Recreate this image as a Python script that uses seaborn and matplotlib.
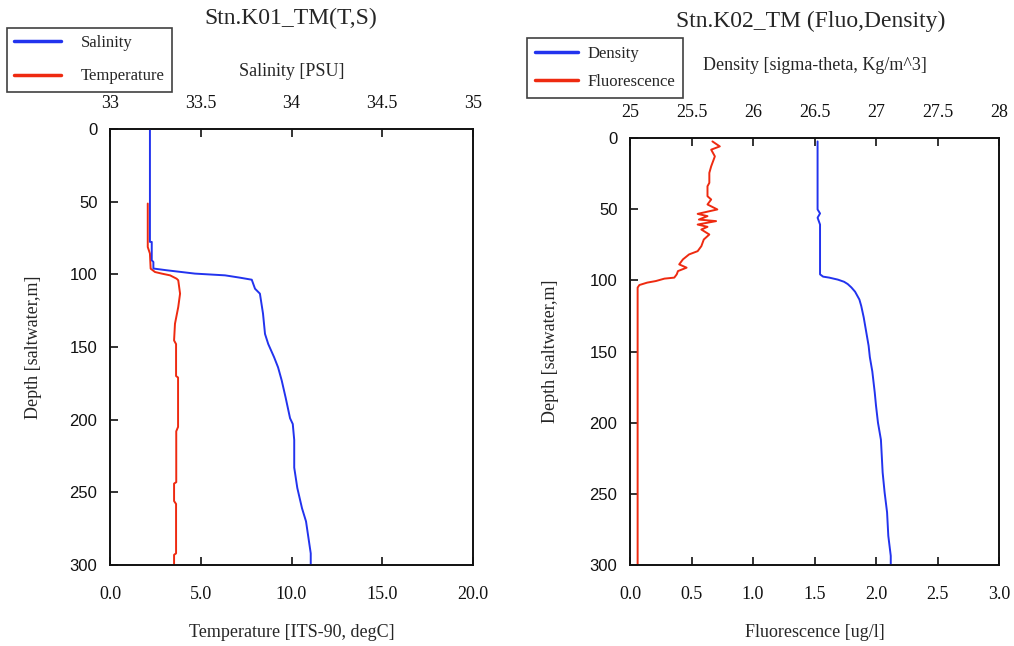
import matplotlib
matplotlib.use("Agg")
import matplotlib.pyplot as plt
import seaborn as sns

# ---------------- data ----------------
# Left panel: Stn.K01_TM (T,S)
sal_depth = [0.7, 77.7, 77.7, 90.3, 91.5, 96.0, 97.2, 99.5, 100.7, 102.3, 103.7, 109.9,
             113.3, 127, 141, 148, 157, 164, 173, 185, 199, 203, 214, 233, 247, 261,
             270, 281, 292, 300]
salinity = [33.220, 33.220, 33.230, 33.230, 33.239, 33.239, 33.312, 33.468, 33.634, 33.716,
            33.781, 33.799, 33.826, 33.843, 33.854, 33.872, 33.904, 33.926, 33.946, 33.968,
            33.992, 34.007, 34.015, 34.015, 34.032, 34.058, 34.080, 34.093, 34.106, 34.106]

temp_depth = [51.3, 81.2, 85.7, 96.1, 98.4, 99.5, 100.7, 103.0, 104.1, 113.3, 122.5, 134,
              145.5, 148, 170, 171, 205, 208, 243, 244, 256, 258, 292, 293, 300]
temperature = [2.08, 2.08, 2.20, 2.24, 2.48, 2.85, 3.31, 3.67, 3.76, 3.86, 3.76, 3.58,
               3.53, 3.64, 3.64, 3.75, 3.75, 3.65, 3.65, 3.53, 3.53, 3.64, 3.64, 3.53, 3.53]

# Right panel: Stn.K02_TM (Fluo,Density)
fluo_depth = [2.4, 5.9, 8.2, 12.9, 19.9, 24.5, 31.5, 33.9, 40.9, 43.2, 46.7, 50.2, 53.3,
              54.9, 57.3, 58.4, 60.8, 62.4, 64.3, 67.8, 71.3, 76.0, 79.5, 81.8, 85.3, 88.8,
              91.1, 93.5, 95.8, 98.1, 98.8, 100.5, 101.6, 103.3, 105.1, 300]
fluorescence = [0.67, 0.73, 0.66, 0.69, 0.66, 0.645, 0.645, 0.63, 0.63, 0.66, 0.63, 0.71,
                0.55, 0.63, 0.56, 0.70, 0.55, 0.63, 0.58, 0.645, 0.60, 0.58, 0.55, 0.48,
                0.43, 0.40, 0.46, 0.39, 0.38, 0.36, 0.28, 0.21, 0.14, 0.076, 0.062, 0.062]

dens_depth = [2.4, 50.2, 53.0, 56.0, 60.8, 95.8, 97.4, 98.1, 99.5, 101.0, 102.6, 105, 108,
              113.5, 118, 126, 136, 146, 154, 164, 179, 188, 200, 212, 235, 249, 263,
              279.5, 293.6, 300]
density = [26.525, 26.525, 26.545, 26.525, 26.545, 26.545, 26.57, 26.62, 26.69, 26.74,
           26.77, 26.80, 26.83, 26.865, 26.88, 26.90, 26.92, 26.94, 26.95, 26.97, 26.99,
           27.00, 27.016, 27.04, 27.054, 27.07, 27.09, 27.10, 27.12, 27.12]

# ticks / labels
depth_ticks = [0, 50, 100, 150, 200, 250, 300]
depth_ticklabels = ["0", "50", "100", "150", "200", "250", "300"]
temp_ticks = [0, 5, 10, 15, 20]
temp_ticklabels = ["0.0", "5.0", "10.0", "15.0", "20.0"]
sal_ticks = [33, 33.5, 34, 34.5, 35]
sal_ticklabels = ["33", "33.5", "34", "34.5", "35"]
fluo_ticks = [0, 0.5, 1.0, 1.5, 2.0, 2.5, 3.0]
fluo_ticklabels = ["0.0", "0.5", "1.0", "1.5", "2.0", "2.5", "3.0"]
dens_ticks = [25, 25.5, 26, 26.5, 27, 27.5, 28]
dens_ticklabels = ["25", "25.5", "26", "26.5", "27", "27.5", "28"]

BLUE = "#2233ee"
RED = "#ee2a10"

# ---------------- style ----------------
sns.set_theme(style="white")
plt.rcParams["font.family"] = ["Liberation Serif", "DejaVu Serif"]
plt.rcParams["axes.edgecolor"] = "#111111"
plt.rcParams["axes.linewidth"] = 1.2

W, H = 1014, 646
fig = plt.figure(figsize=(W / 100, H / 100), dpi=100)


def fx(px):
    return px / W


def fy(py):
    return 1 - py / H


def style_axes(ax, top, xticks, xlabels, tticks, tlabels, xlab, tlab,
               tick_pad_top, label_pad_top, ylabelpad):
    ax.set_ylim(300, 0)
    ax.set_yticks(depth_ticks)
    ax.set_yticklabels(depth_ticklabels, fontfamily="Liberation Sans", fontsize=12)
    ax.set_xticks(xticks)
    ax.set_xticklabels(xlabels, fontsize=13)
    ax.set_xlabel(xlab, fontsize=13, labelpad=15)
    ax.set_ylabel("Depth [saltwater,m]", fontsize=13, labelpad=ylabelpad)
    ax.tick_params(axis="x", which="both", direction="in", length=6, width=1.2,
                   bottom=True, top=False, pad=15, colors="#111111")
    ax.tick_params(axis="y", which="both", direction="in", length=6, width=1.2,
                   left=True, right=False, pad=9, colors="#111111")
    top.set_xticks(tticks)
    top.set_xticklabels(tlabels, fontsize=13)
    top.set_xlabel(tlab, fontsize=13, labelpad=label_pad_top)
    top.tick_params(axis="x", which="both", direction="in", length=6, width=1.2,
                    top=True, bottom=False, pad=tick_pad_top, colors="#111111")
    for a in (ax, top):
        for s in a.spines.values():
            s.set_visible(True)
            s.set_color("#111111")
            s.set_linewidth(1.2)


# ---------------- left panel ----------------
axL = fig.add_axes([fx(110), fy(565), fx(473) - fx(110), fy(129) - fy(565)])
axL.set_xlim(0, 20)
sns.lineplot(x=temperature, y=temp_depth, sort=False, estimator=None, ax=axL,
             color=RED, lw=1.4)
topL = axL.twiny()
topL.set_xlim(33, 35)
sns.lineplot(x=salinity, y=sal_depth, sort=False, estimator=None, ax=topL,
             color=BLUE, lw=1.4)
style_axes(axL, topL, temp_ticks, temp_ticklabels, sal_ticks, sal_ticklabels,
           "Temperature [ITS-90, degC]", "Salinity [PSU]", 12, 14, 20)

# ---------------- right panel ----------------
axR = fig.add_axes([fx(630), fy(565), fx(999) - fx(630), fy(138) - fy(565)])
axR.set_xlim(0, 3)
sns.lineplot(x=fluorescence, y=fluo_depth, sort=False, estimator=None, ax=axR,
             color=RED, lw=1.4)
topR = axR.twiny()
topR.set_xlim(25, 28)
sns.lineplot(x=density, y=dens_depth, sort=False, estimator=None, ax=topR,
             color=BLUE, lw=1.4)
style_axes(axR, topR, fluo_ticks, fluo_ticklabels, dens_ticks, dens_ticklabels,
           "Fluorescence [ug/l]", "Density [sigma-theta, Kg/m^3]", 12, 25, 22)

# ---------------- titles ----------------
fig.text(fx(291), fy(18), "Stn.K01_TM(T,S)", ha="center", va="center", fontsize=17)
fig.text(fx(811), fy(21), "Stn.K02_TM (Fluo,Density)", ha="center", va="center", fontsize=17)

# ---------------- legends ----------------
hL = [topL.get_lines()[0], axL.get_lines()[0]]
legL = fig.legend(hL, ["Salinity", "Temperature"], loc="upper left",
                  bbox_to_anchor=(fx(7), fy(28)), bbox_transform=fig.transFigure,
                  frameon=True, fancybox=False, edgecolor="#111111", borderaxespad=0,
                  fontsize=12, handlelength=2.8, handletextpad=1.2, labelspacing=1.05,
                  borderpad=0.42)
legL.get_frame().set_linewidth(1.2)
for ln in legL.get_lines():
    ln.set_linewidth(2.5)

hR = [topR.get_lines()[0], axR.get_lines()[0]]
legR = fig.legend(hR, ["Density", "Fluorescence"], loc="upper left",
                  bbox_to_anchor=(fx(527), fy(38)), bbox_transform=fig.transFigure,
                  frameon=True, fancybox=False, edgecolor="#111111", borderaxespad=0,
                  fontsize=12, handlelength=2.6, handletextpad=0.6, labelspacing=0.75,
                  borderpad=0.45)
legR.get_frame().set_linewidth(1.2)
for ln in legR.get_lines():
    ln.set_linewidth(2.5)

fig.savefig("out.png", dpi=100)
